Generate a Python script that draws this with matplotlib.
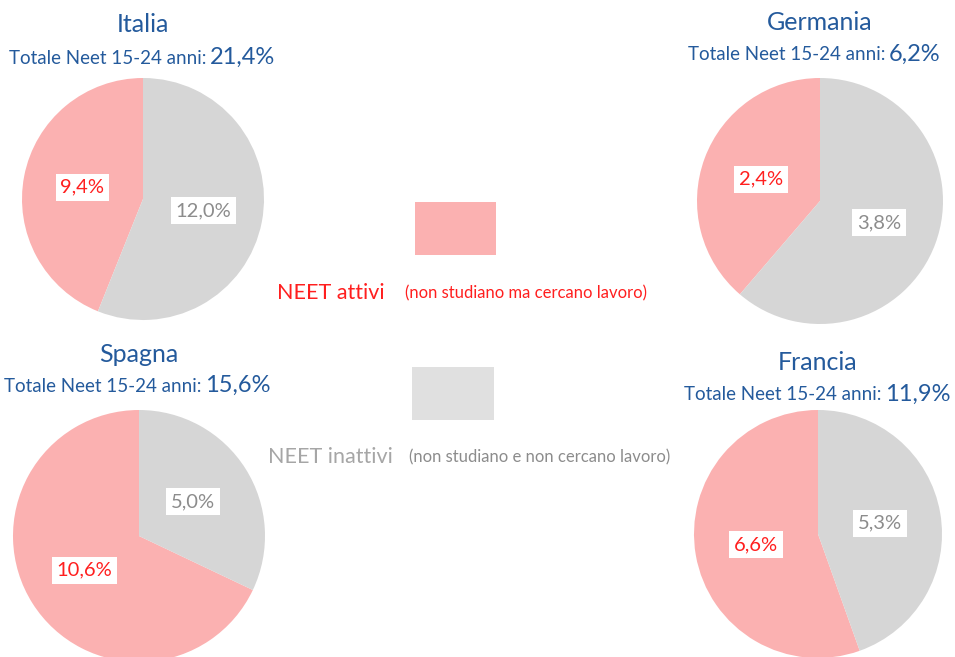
import matplotlib.pyplot as plt

plt.rcParams['font.family'] = ['Lato', 'DejaVu Sans']

paesi = ['Italia', 'Germania', 'Spagna', 'Francia']
attivi = [9.4, 2.4, 10.6, 6.6]
inattivi = [12.0, 3.8, 5.0, 5.3]
totale = [21.4, 6.2, 15.6, 11.9]
legenda = ['NEET attivi', 'NEET inattivi']
legenda_note = ['(non studiano ma cercano lavoro)', '(non studiano e non cercano lavoro)']

W, H = 955, 657
ROSA = '#FBB1B1'
GRIGIO = '#D6D6D6'
BLU = '#245A9C'

# pixel layout per paese: centro torta, raggio, titolo, sottotitolo
centri = [(143, 199, 121), (820, 201, 123), (139, 536, 126), (818, 534, 124)]
titoli_y = [25, 22, 355, 362]
sotto = [(206, 58), (885, 55), (201, 386), (881, 395)]

fig = plt.figure(figsize=(W / 100, H / 100), dpi=100)
fig.patch.set_facecolor('white')


def fx(x):
    return x / W


def fy(y):
    return 1 - y / H


def fmt(v):
    return ('%.1f%%' % v).replace('.', ',')


for i, p in enumerate(paesi):
    cx, cy, r = centri[i]
    ax = fig.add_axes([fx(cx - r), fy(cy + r), 2 * r / W, 2 * r / H])
    vals = [attivi[i], inattivi[i]]
    tot = sum(vals)
    wedges, texts, auto = ax.pie(vals, colors=[ROSA, GRIGIO], startangle=90,
                                 counterclock=True, radius=1,
                                 autopct=lambda pc, t=tot: fmt(pc * t / 100),
                                 pctdistance=0.51,
                                 wedgeprops=dict(linewidth=0))
    for t, c in zip(auto, ['#FF1F1F', '#8C8C8C']):
        t.set_color(c)
        t.set_fontsize(14.5)
        t.set_bbox(dict(facecolor='white', edgecolor='none', pad=3.5))
    ax.set_xlim(-1, 1)
    ax.set_ylim(-1, 1)
    ax.set_aspect('auto')
    ax.axis('off')

    fig.text(fx(cx), fy(titoli_y[i]), p, color=BLU, fontsize=18,
             ha='center', va='center')
    sx, sy = sotto[i]
    fig.text(fx(sx), fy(sy), 'Totale Neet 15-24 anni:', color=BLU,
             fontsize=13.5, ha='right', va='center')
    fig.text(fx(sx + 4), fy(sy - 1), fmt(totale[i]), color=BLU,
             fontsize=17, ha='left', va='center')

# legenda al centro
box = fig.add_axes([0, 0, 1, 1])
box.set_xlim(0, W)
box.set_ylim(H, 0)
box.axis('off')
box.add_patch(plt.Rectangle((415, 202), 81, 53, facecolor=ROSA, edgecolor='none'))
box.add_patch(plt.Rectangle((412, 367), 82, 53, facecolor='#E0E0E0', edgecolor='none'))
fig.text(fx(331), fy(293), legenda[0], color='#FF1F1F', fontsize=15.5,
         ha='center', va='center')
fig.text(fx(526), fy(293), legenda_note[0], color='#FF1F1F', fontsize=12,
         ha='center', va='center')
fig.text(fx(330), fy(457), legenda[1], color='#A6A6A6', fontsize=15.5,
         ha='center', va='center')
fig.text(fx(540), fy(457), legenda_note[1], color='#8C8C8C', fontsize=12,
         ha='center', va='center')

fig.savefig('out.png', dpi=100)
